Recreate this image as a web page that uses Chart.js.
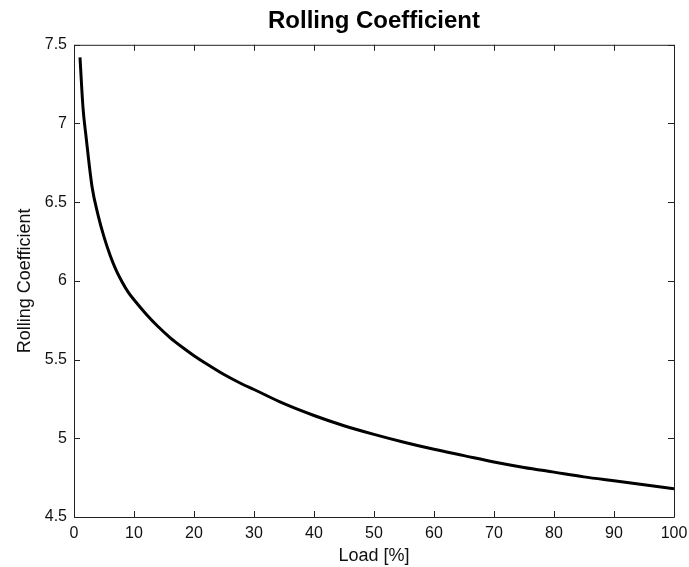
<!DOCTYPE html>
<html>
<head>
<meta charset="utf-8">
<script src="https://cdn.jsdelivr.net/npm/chart.js@4.4.1/dist/chart.umd.min.js"></script>
<style>
  html, body { margin: 0; padding: 0; background: #fff; }
  #wrap { width: 689px; height: 567px; }
</style>
</head>
<body>
<div id="wrap"><canvas id="chart" width="689" height="567"></canvas></div>
<script>
// Load [%] and rolling coefficient
const loads = [1, 1.5, 2, 3, 4, 5, 6, 7, 8, 9, 10, 12, 14, 16, 18, 20, 22, 25, 28, 30, 35, 40, 45, 50, 55, 60, 65, 70, 75, 80, 85, 90, 95, 100];
const coeffs = [7.42, 7.10, 6.92, 6.60, 6.42, 6.28, 6.165, 6.07, 5.995, 5.93, 5.88, 5.79, 5.71, 5.64, 5.58, 5.525, 5.475, 5.405, 5.345, 5.31, 5.22, 5.145, 5.08, 5.025, 4.975, 4.93, 4.89, 4.85, 4.815, 4.785, 4.755, 4.73, 4.705, 4.68];

const xTicks = [0, 10, 20, 30, 40, 50, 60, 70, 80, 90, 100];
const yTicks = [4.5, 5, 5.5, 6, 6.5, 7, 7.5];

const axisColor = "#222";
const font = "'Liberation Sans', Arial, sans-serif";

// MATLAB style box with ticks pointing inward on all four sides
const boxTicks = {
  id: "boxTicks",
  afterDraw(chart) {
    const { ctx, chartArea: a, scales } = chart;
    const len = 6;
    ctx.save();
    ctx.strokeStyle = axisColor;
    ctx.lineWidth = 1;
    ctx.beginPath();
    ctx.rect(a.left + 0.5, a.top + 0.5, a.right - a.left, a.bottom - a.top);
    for (const v of xTicks) {
      const x = Math.round(scales.x.getPixelForValue(v)) + 0.5;
      ctx.moveTo(x, a.bottom);
      ctx.lineTo(x, a.bottom - len);
      ctx.moveTo(x, a.top);
      ctx.lineTo(x, a.top + len);
    }
    for (const v of yTicks) {
      const y = Math.round(scales.y.getPixelForValue(v)) + 0.5;
      ctx.moveTo(a.left, y);
      ctx.lineTo(a.left + len, y);
      ctx.moveTo(a.right, y);
      ctx.lineTo(a.right - len, y);
    }
    ctx.stroke();
    ctx.restore();
  },
};

new Chart(document.getElementById("chart"), {
  type: "line",
  data: {
    datasets: [
      {
        data: loads.map((l, i) => ({ x: l, y: coeffs[i] })),
        borderColor: "#000",
        borderWidth: 3,
        pointRadius: 0,
        cubicInterpolationMode: "monotone",
        fill: false,
      },
    ],
  },
  options: {
    responsive: false,
    animation: false,
    layout: { padding: { left: 0, right: 0, top: 0, bottom: 0 } },
    plugins: {
      legend: { display: false },
      tooltip: { enabled: false },
      title: {
        display: true,
        text: "Rolling Coefficient",
        fullSize: false,
        color: "#000",
        font: { family: font, size: 24, weight: "bold" },
        padding: { top: 7, bottom: 9 },
      },
    },
    scales: {
      x: {
        type: "linear",
        min: 0,
        max: 100,
        afterBuildTicks: (s) => { s.ticks = xTicks.map((v) => ({ value: v })); },
        afterFit: (s) => { s.height = 50; s.paddingLeft = 0; s.paddingRight = 15; },
        grid: { drawOnChartArea: false, drawTicks: false },
        border: { display: false },
        ticks: { color: "#111", padding: 7, font: { family: font, size: 16 } },
        title: {
          display: true,
          text: "Load [%]",
          color: "#111",
          font: { family: font, size: 18 },
          padding: { top: 0, bottom: 0 },
        },
      },
      y: {
        min: 4.5,
        max: 7.5,
        afterBuildTicks: (s) => { s.ticks = yTicks.map((v) => ({ value: v })); },
        afterFit: (s) => { s.width = 74; },
        grid: { drawOnChartArea: false, drawTicks: false },
        border: { display: false },
        ticks: { color: "#111", padding: 7, font: { family: font, size: 16 }, callback: (v) => String(v) },
        title: {
          display: true,
          text: "Rolling Coefficient",
          color: "#111",
          font: { family: font, size: 18 },
          padding: { top: 14, bottom: 0 },
        },
      },
    },
  },
  plugins: [boxTicks],
});
</script>
</body>
</html>
